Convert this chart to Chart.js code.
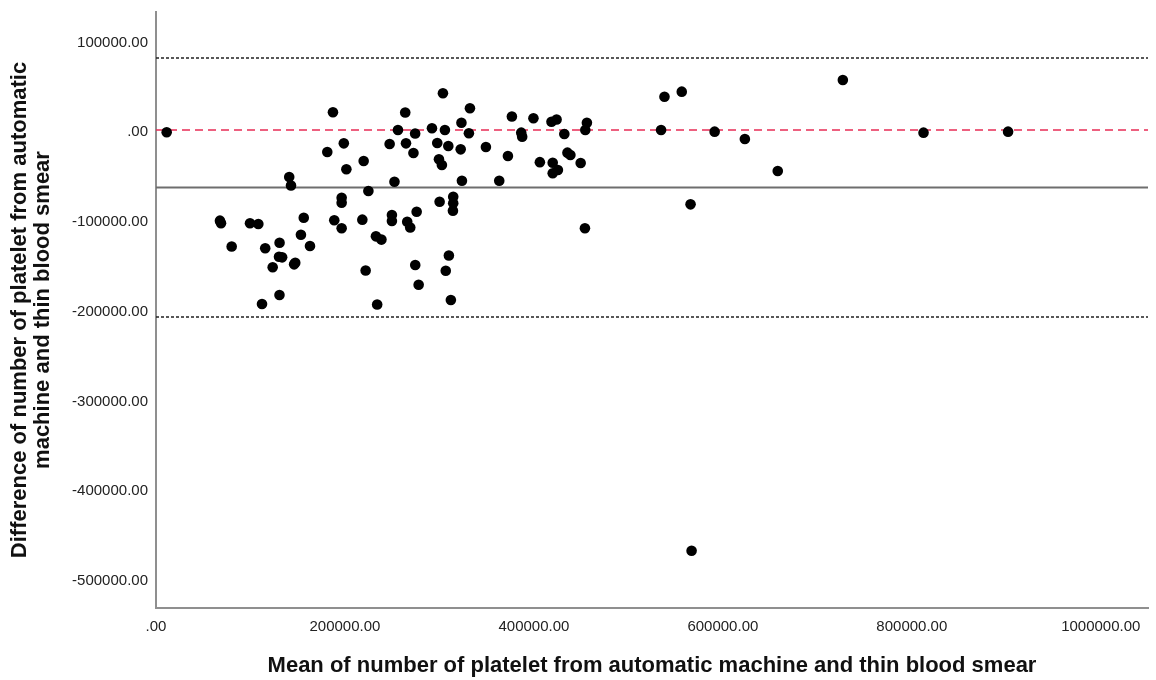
<!DOCTYPE html>
<html>
<head>
<meta charset="utf-8">
<script src="https://cdn.jsdelivr.net/npm/chart.js@4/dist/chart.umd.min.js"></script>
<style>
  html, body { margin: 0; padding: 0; background: #ffffff; }
  #wrap { width: 1156px; height: 680px; }
</style>
</head>
<body>
<div id="wrap"><canvas id="chart" width="1156" height="680"></canvas></div>
<script>
// Bland-Altman: mean of the two platelet counts vs. their difference
const meanCounts = [11300, 67700, 68800, 80100, 99500, 108300, 112200, 115600, 123500, 130800,
  130200, 133500, 130700, 141000, 142900, 146200, 147400, 153400, 156400, 163000,
  181300, 187300, 188700, 196500, 196500, 196500, 198800, 201500, 218400, 219800,
  221900, 224800, 232800, 238600, 234100, 247300, 249700, 249700, 252400, 256100,
  263800, 264600, 265900, 269100, 272500, 274300, 274400, 275900, 278000, 292100,
  297700, 299500, 302600, 300200, 303700, 305800, 306700, 309400, 310000, 312100,
  314600, 314600, 314300, 322500, 323300, 323800, 332300, 331200, 349200, 363300,
  372500, 376700, 386600, 387600, 399500, 406300, 418600, 424000, 419900, 419900,
  425400, 432200, 435500, 438600, 449500, 454400, 456100, 454000, 534600, 538200,
  556500, 565800, 591300, 623300, 658100, 727000, 812400, 901900, 566900];

const countDiffs = [0, -98500, -101400, -127300, -101400, -102200, -191400, -129300, -150400, -123100,
  -138700, -139400, -181400, -49800, -59300, -147200, -145400, -114200, -95200, -126800,
  -22000, 22400, -98100, -107000, -73000, -78500, -12300, -41200, -97400, -32000,
  -154100, -65400, -116000, -119600, -192000, -13000, -92200, -98900, -55100, 2600,
  22100, -12300, -99700, -106100, -23100, -1300, -147900, -88500, -170000, 4500,
  -11900, -30000, -36500, -77400, 43500, 2600, -154300, -15300, -137300, -187000,
  -71800, -79200, -87500, -19000, 10700, -54000, 26800, -1100, -16400, -54000,
  -26400, 17600, -400, -4900, 15600, -33300, 11800, 14200, -33900, -45700,
  -42000, -1900, -22700, -25300, -34200, 2600, 10700, -107000, 2600, 39700,
  45300, -80300, 700, -7500, -43100, 58300, -400, 700, -466400];

// Reference lines: limits of agreement, mean difference, reference level
const upperLimit = 82800;
const meanDiff = -61600;
const lowerLimit = -205900;
const refLevel = 2500;

// Axis ranges and ticks
const xRange = [0, 1050000];
const yRange = [-530300, 134100];
const xTicks = [0, 200000, 400000, 600000, 800000, 1000000];
const yTicks = [-500000, -400000, -300000, -200000, -100000, 0, 100000];

const points = meanCounts.map((m, i) => ({ x: m, y: countDiffs[i] }));
const hLine = v => [{ x: xRange[0], y: v }, { x: xRange[1], y: v }];

const fmt = v => v === 0 ? '.00' : v.toFixed(2);
const tickFont = { family: '"Liberation Sans", Arial, sans-serif', size: 15 };
const titleFont = { family: '"Liberation Sans", Arial, sans-serif', size: 22, weight: 'bold', lineHeight: 1.05 };

const lineDs = (v, color, width, dash) => ({
  type: 'line', data: hLine(v), borderColor: color, borderWidth: width,
  borderDash: dash, pointRadius: 0, fill: false, order: 2
});

new Chart(document.getElementById('chart'), {
  type: 'scatter',
  data: {
    datasets: [
      { data: points, backgroundColor: '#000000', borderWidth: 0, pointRadius: 5.3, pointHoverRadius: 5.3, order: 0 },
      lineDs(upperLimit, '#222222', 1.3, [3, 2]),
      lineDs(lowerLimit, '#222222', 1.3, [3, 2]),
      lineDs(meanDiff, '#6e6e6e', 2, []),
      lineDs(refLevel, '#e82c55', 1.5, [8, 5])
    ]
  },
  options: {
    responsive: false,
    animation: false,
    layout: { padding: { top: 12, right: 8, left: 0, bottom: 0 } },
    plugins: { legend: { display: false }, tooltip: { enabled: false } },
    scales: {
      x: {
        type: 'linear', min: xRange[0], max: xRange[1],
        grid: { display: false, drawTicks: false },
        border: { display: true, color: '#8f8f8f', width: 2 },
        afterBuildTicks: s => { s.ticks = xTicks.map(v => ({ value: v })); },
        afterFit: s => { s.height = 72; s.paddingLeft = 0; s.paddingRight = 0; },
        ticks: { color: '#222222', font: tickFont, padding: 10, maxRotation: 0, callback: fmt },
        title: {
          display: true, color: '#111111', font: titleFont, padding: { top: 0, bottom: 3 },
          text: 'Mean of number of platelet from automatic machine and thin blood smear'
        }
      },
      y: {
        type: 'linear', min: yRange[0], max: yRange[1],
        grid: { display: false, drawTicks: false },
        border: { display: true, color: '#8f8f8f', width: 2 },
        afterBuildTicks: s => { s.ticks = yTicks.map(v => ({ value: v })); },
        afterFit: s => { s.width = 156; s.paddingTop = 0; s.paddingBottom = 0; },
        ticks: { color: '#222222', font: tickFont, padding: 8, callback: fmt },
        title: {
          display: true, color: '#111111', font: titleFont, padding: { top: 8, bottom: 0 },
          text: ['Difference of number of platelet from automatic', 'machine and thin blood smear']
        }
      }
    }
  }
});
</script>
</body>
</html>
